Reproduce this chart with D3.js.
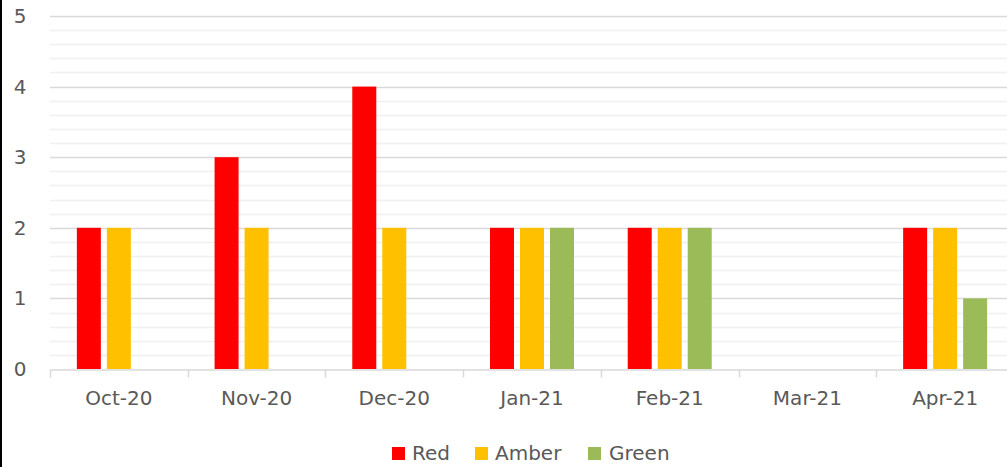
<!DOCTYPE html>
<html>
<head>
  <style type="text/css">
    body { margin: 0; background: #fff; }
    svg text { font-family: "DejaVu Sans", sans-serif; fill: #595959; }
  </style>
</head>
<body>
<div id="chart"></div>
<script src="https://cdnjs.cloudflare.com/ajax/libs/d3/7.8.5/d3.min.js"></script>
<script>
  var months = ['Oct-20', 'Nov-20', 'Dec-20', 'Jan-21', 'Feb-21', 'Mar-21', 'Apr-21'];
  var seriesNames = ['Red', 'Amber', 'Green'];
  var redVals = [2, 3, 4, 2, 2, 0, 2];
  var amberVals = [2, 2, 2, 2, 2, 0, 2];
  var greenVals = [0, 0, 0, 2, 2, 0, 1];
  var yTicks = [0, 1, 2, 3, 4, 5];

  var colors = { Red: '#ff0000', Amber: '#ffc000', Green: '#9bbb59' };
  var values = { Red: redVals, Amber: amberVals, Green: greenVals };

  var cfg = { w: 1007, h: 467, left: 50, right: 1014, top: 16, bottom: 369 };

  var svg = d3.select('#chart').append('svg')
    .attr('width', cfg.w)
    .attr('height', cfg.h);

  var x = d3.scaleBand().domain(months).range([cfg.left, cfg.right]);
  var y = d3.scaleLinear().domain([0, 5]).range([cfg.bottom, cfg.top]);
  var inner = d3.scaleBand().domain(seriesNames)
    .range([0, 84]).paddingInner(0.2);

  // minor grid
  var minor = d3.range(0, 5.01, 0.2).filter(function(v) { return Math.abs(v - Math.round(v)) > 0.01 });
  svg.append('g').selectAll('line').data(minor).enter().append('line')
    .attr('x1', cfg.left).attr('x2', cfg.w)
    .attr('y1', function(d) { return Math.round(y(d)) + 0.5 })
    .attr('y2', function(d) { return Math.round(y(d)) + 0.5 })
    .style('stroke', '#f0f0f0').style('stroke-width', 1.5);

  // major grid
  svg.append('g').selectAll('line').data(yTicks.slice(1)).enter().append('line')
    .attr('x1', cfg.left).attr('x2', cfg.w)
    .attr('y1', function(d) { return Math.round(y(d)) + 0.5 })
    .attr('y2', function(d) { return Math.round(y(d)) + 0.5 })
    .style('stroke', '#d9d9d9').style('stroke-width', 1.5);

  // bars
  seriesNames.forEach(function(s) {
    svg.append('g').selectAll('rect').data(values[s]).enter().append('rect')
      .attr('x', function(d, i) {
        return x(months[i]) + (x.bandwidth() - 84) / 2 + inner(s);
      })
      .attr('y', function(d) { return y(d) })
      .attr('width', inner.bandwidth())
      .attr('height', function(d) { return y(0) - y(d) })
      .style('fill', colors[s]);
  });

  // x axis
  var xAxis = d3.axisBottom(x).tickSize(0);
  var gx = svg.append('g')
    .attr('transform', 'translate(0,' + (Math.round(y(0)) + 0.5) + ')')
    .call(xAxis);
  gx.select('.domain').style('stroke', '#d9d9d9').style('stroke-width', 1.5);
  gx.selectAll('text').style('font-size', '20px').attr('y', 35.5).attr('dy', 0);
  gx.selectAll('line.sep').data(months).enter().append('line')
    .attr('class', 'sep')
    .attr('x1', function(d) { return Math.round(x(d)) + 0.5 })
    .attr('x2', function(d) { return Math.round(x(d)) + 0.5 })
    .attr('y1', 0).attr('y2', 8)
    .style('stroke', '#d9d9d9').style('stroke-width', 1.5);

  // y axis labels
  var yAxis = d3.axisLeft(y).tickValues(yTicks).tickFormat(d3.format('d'))
    .tickSize(0).tickPadding(30);
  var gy = svg.append('g').attr('transform', 'translate(' + cfg.left + ',0)').call(yAxis);
  gy.select('.domain').remove();
  gy.selectAll('text').style('font-size', '20px').attr('text-anchor', 'middle');

  // legend
  var legendItems = [
    { name: 'Red', sx: 392, tx: 412 },
    { name: 'Amber', sx: 475, tx: 495 },
    { name: 'Green', sx: 588, tx: 609 }
  ];
  var lg = svg.append('g');
  lg.selectAll('rect').data(legendItems).enter().append('rect')
    .attr('x', function(d) { return d.sx }).attr('y', 447)
    .attr('width', 13).attr('height', 13)
    .style('fill', function(d) { return colors[d.name] });
  lg.selectAll('text').data(legendItems).enter().append('text')
    .attr('x', function(d) { return d.tx }).attr('y', 460)
    .style('font-size', '20px')
    .text(function(d) { return d.name });

  // left frame edge
  svg.append('rect').attr('x', 0).attr('y', 0).attr('width', 2).attr('height', cfg.h)
    .style('fill', '#000');
</script>
</body>
</html>
